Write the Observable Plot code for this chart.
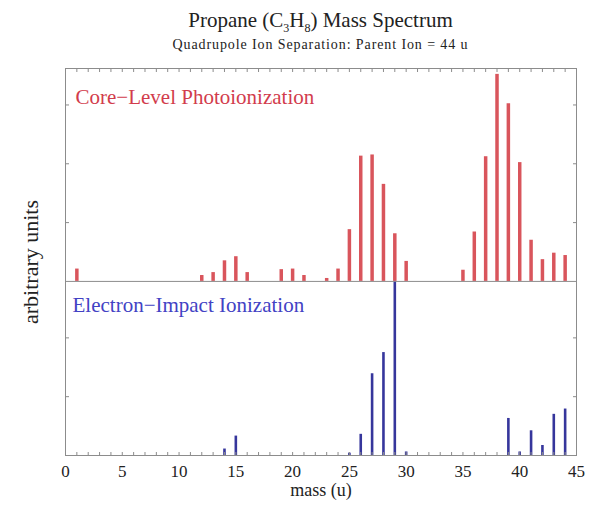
<!DOCTYPE html>
<html><head><meta charset="utf-8">
<script src="https://cdn.jsdelivr.net/npm/d3@7"></script>
<script src="https://cdn.jsdelivr.net/npm/@observablehq/plot@0.6"></script>
<style>
body{margin:0;background:#fff;font-family:"Liberation Serif",serif;color:#222;}
#wrap{position:relative;width:589px;height:510px;}
#head{position:relative;height:58px;}
#title{position:absolute;left:65px;width:511px;top:9px;text-align:center;font-size:21px;line-height:22px;}
#title sub{font-size:12px;line-height:0;}
#sub{position:absolute;left:65px;width:511px;top:37px;text-align:center;font-size:14px;letter-spacing:0.9px;line-height:16px;}
</style></head><body>
<div id="wrap">
<div id="head"><div id="title">Propane (C<sub>3</sub>H<sub>8</sub>) Mass Spectrum</div><div id="sub">Quadrupole Ion Separation: Parent Ion = 44 u</div></div>
<div id="chart"></div>
</div>
<script>
const redMass  = [1,12,13,14,15,16,19,20,21,23,24,25,26,27,28,29,30,35,36,37,38,39,40,41,42,43,44];
const redValue = [2.1,1.0,1.5,3.5,4.2,1.5,2.0,2.1,1.0,0.5,2.1,8.8,21.3,21.5,16.5,8.1,3.4,1.9,8.4,21.2,35.2,30.2,20.2,7.0,3.7,4.8,4.4];
const blueMass  = [14,15,25,26,27,28,29,30,39,40,41,42,43,44];
const blueValue = [1.1,3.3,0.4,3.6,13.9,17.5,31.0,0.6,6.3,0.6,4.2,1.7,7.0,7.9];
const blueTop = 29.6;   // height of lower panel (units)
const redTop = 36.2;    // height of upper panel (units)
const xLabelTicks = [0,5,10,15,20,25,30,35,40,45];
const xMinorTicks = d3.range(0, 46);
const yPanelTicks = [10,20,30];
const panelLabels = ["Core\u2212Level Photoionization", "Electron\u2212Impact Ionization"];
const xTitle = "mass (u)";
const yTitle = "arbitrary units";

const red = redMass.map((m,i) => ({mass: m, value: redValue[i]}));
const blue = blueMass.map((m,i) => ({mass: m, value: blueValue[i]}));
const yTickVals = yPanelTicks.filter(v => v < blueTop).concat(yPanelTicks.filter(v => v < redTop).map(v => v + blueTop));

const redColor = "#d9555c", blueColor = "#36369c", frameColor = "#8c8c8c";
const font = "Liberation Serif, serif";

const chart = Plot.plot({
  width: 589, height: 452,
  marginTop: 10, marginBottom: 55, marginLeft: 65, marginRight: 13,
  style: {fontFamily: font, background: "#fff", color: "#222"},
  x: {domain: [0, 45], axis: null},
  y: {domain: [0, blueTop + redTop], axis: null},
  marks: [
    Plot.ruleX(red, {x: "mass", y1: blueTop, y2: d => blueTop + d.value, stroke: redColor, strokeWidth: 3.5}),
    Plot.ruleX(blue, {x: "mass", y1: 0, y2: d => Math.min(d.value, blueTop), stroke: blueColor, strokeWidth: 2.6}),
    Plot.ruleY([blueTop], {stroke: frameColor, strokeWidth: 1}),
    Plot.frame({stroke: frameColor, strokeWidth: 1}),
    Plot.axisX({ticks: xMinorTicks, anchor: "bottom", tickSize: 3, dy: -3, fill: "none", stroke: frameColor}),
    Plot.axisX({ticks: xMinorTicks, anchor: "top", tickSize: 3, dy: 3, fill: "none", stroke: frameColor}),
    Plot.axisY({ticks: yTickVals, anchor: "left", tickSize: 4, dx: 4, fill: "none", stroke: frameColor}),
    Plot.axisY({ticks: yTickVals, anchor: "right", tickSize: 4, dx: -4, fill: "none", stroke: frameColor}),
    Plot.axisX({ticks: xLabelTicks, anchor: "bottom", tickSize: 0, tickPadding: 9, fontSize: 17, label: null, fill: "#222"}),
    Plot.text([xTitle], {frameAnchor: "bottom", dy: 40, fontSize: 18, fill: "#222"}),
    Plot.text([yTitle], {frameAnchor: "left", dx: -35, rotate: -90, textAnchor: "middle", fontSize: 22, fill: "#222"}),
    Plot.text([panelLabels[0]], {frameAnchor: "top-left", dx: 10, dy: 29, textAnchor: "start", lineAnchor: "middle", fontSize: 21, fill: "#d23c4c"}),
    Plot.text([panelLabels[1]], {x: 0, y: blueTop, dx: 7, dy: 24, textAnchor: "start", lineAnchor: "middle", fontSize: 21, fill: "#4242c4"})
  ]
});
document.getElementById("chart").appendChild(chart);
</script>
</body></html>
